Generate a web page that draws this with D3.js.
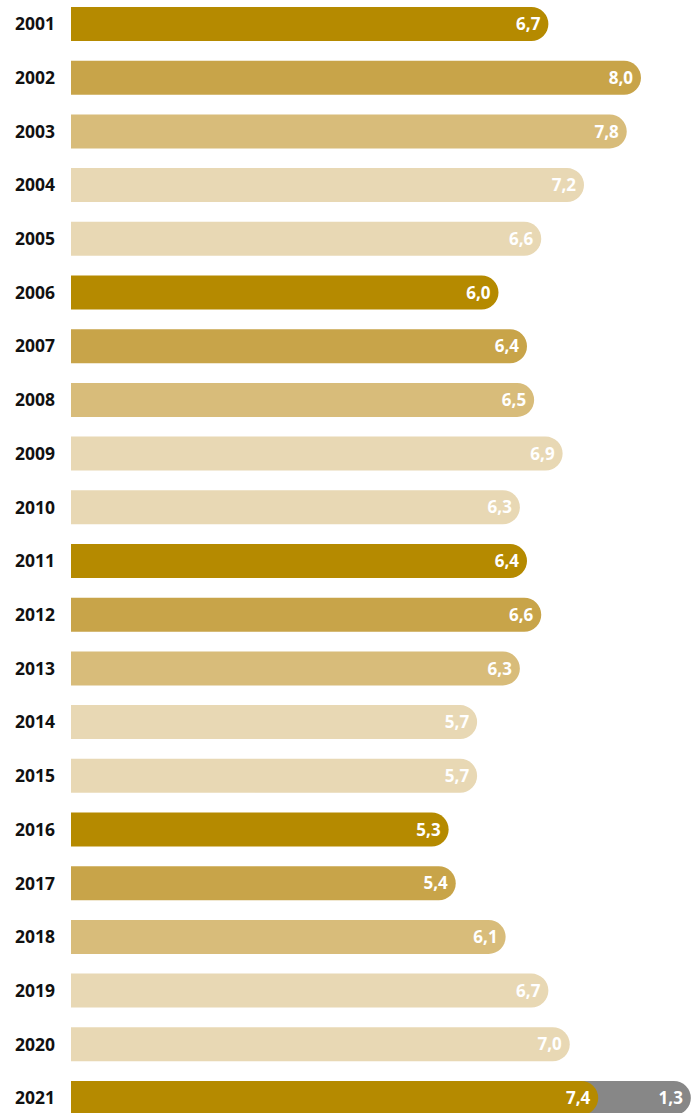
<!DOCTYPE html>
<html><head><meta charset="utf-8">
<script src="https://cdn.jsdelivr.net/npm/d3@7"></script>
<style>html,body{margin:0;padding:0;background:#fff;}svg{display:block;}</style>
</head><body>
<svg id="chart" width="699" height="1113"></svg>
<script>
const years = ["2001","2002","2003","2004","2005","2006","2007","2008","2009","2010","2011","2012","2013","2014","2015","2016","2017","2018","2019","2020","2021"];
const values = [6.7,8.0,7.8,7.2,6.6,6.0,6.4,6.5,6.9,6.3,6.4,6.6,6.3,5.7,5.7,5.3,5.4,6.1,6.7,7.0,7.4];
const extraValues = [0,0,0,0,0,0,0,0,0,0,0,0,0,0,0,0,0,0,0,0,1.3];

const palette = ["#b58a00","#c8a449","#d8bc7a","#e8d8b4","#e8d8b4"];
const greyColor = "#878787";
const fmt = v => d3.format(".1f")(v).replace(".", ",");

const svg = d3.select("#chart");
const x = d3.scaleLinear().domain([0, 8]).range([71, 641]);
const y = d3.scaleBand().domain(years).range([7, 1115]).paddingInner(0.367).paddingOuter(0);
const h = y.bandwidth();
const r = h / 2;

function roundRight(x0, x1, y0) {
  return `M${x0},${y0}H${x1 - r}A${r},${r} 0 0 1 ${x1 - r},${y0 + h}H${x0}Z`;
}

const rows = years.map((yr, i) => ({yr, v: values[i], e: extraValues[i], i}));
const g = svg.selectAll("g.row").data(rows).join("g").attr("class", "row");

// grey extension (behind)
g.filter(d => d.e > 0).append("path")
  .attr("d", d => roundRight(x(0), x(d.v + d.e), y(d.yr)))
  .attr("fill", greyColor);

g.append("path")
  .attr("d", d => roundRight(x(0), x(d.v), y(d.yr)))
  .attr("fill", d => palette[d.i % 5]);

const font = "'Open Sans', sans-serif";
g.append("text")
  .attr("x", 55).attr("y", d => y(d.yr) + h / 2)
  .attr("dy", "0.36em").attr("text-anchor", "end")
  .attr("font-family", font).attr("font-weight", 700).attr("font-size", 17.5)
  .attr("fill", "#111").text(d => d.yr);

g.append("text")
  .attr("x", d => x(d.v) - 8).attr("y", d => y(d.yr) + h / 2)
  .attr("dy", "0.36em").attr("text-anchor", "end")
  .attr("font-family", font).attr("font-weight", 700).attr("font-size", 17)
  .attr("fill", "#fff").text(d => fmt(d.v));

g.filter(d => d.e > 0).append("text")
  .attr("x", d => x(d.v + d.e) - 8).attr("y", d => y(d.yr) + h / 2)
  .attr("dy", "0.36em").attr("text-anchor", "end")
  .attr("font-family", font).attr("font-weight", 700).attr("font-size", 17)
  .attr("fill", "#fff").text(d => fmt(d.e));
</script>
</body></html>
